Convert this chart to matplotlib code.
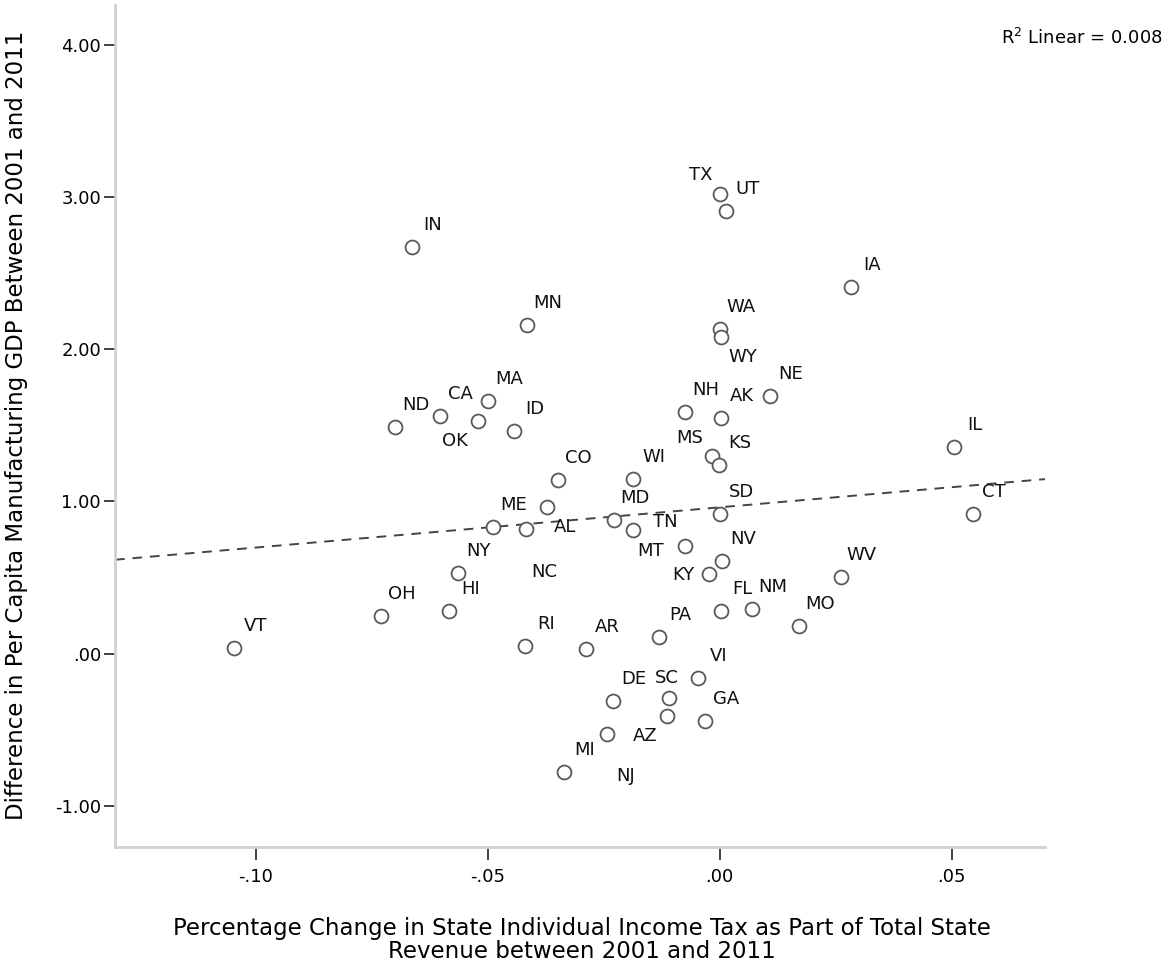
import numpy as np
import matplotlib
matplotlib.use("Agg")
import matplotlib.pyplot as plt

# ---------------- data ----------------
states = ["VT", "OH", "HI", "NY", "ND", "CA", "OK", "MA", "ID", "IN", "MN", "ME",
          "NC", "AL", "CO", "WI", "MD", "TN", "MT", "TX", "UT", "WA", "WY", "NH",
          "AK", "NE", "MS", "KS", "SD", "NV", "KY", "FL", "NM", "MO", "WV", "IA",
          "IL", "CT", "PA", "RI", "AR", "VI", "DE", "SC", "AZ", "GA", "NJ", "MI"]
tax_change = [-0.1046, -0.0730, -0.0583, -0.0564, -0.0700, -0.0603, -0.0521, -0.0499,
              -0.0443, -0.0663, -0.0415, -0.0489, -0.0417, -0.0372, -0.0349, -0.0187,
              -0.0228, -0.0187, -0.0075, 0.0001, 0.0014, 0.0001, 0.0003, -0.0075,
              0.0003, 0.0108, -0.0017, -0.0002, 0.0001, 0.0005, -0.0023, 0.0003,
              0.0070, 0.0171, 0.0261, 0.0283, 0.0505, 0.0546, -0.0131, -0.0420,
              -0.0288, -0.0047, -0.0230, -0.0109, -0.0114, -0.0032, -0.0243, -0.0336]
gdp_diff = [0.04, 0.25, 0.28, 0.53, 1.49, 1.56, 1.53, 1.66, 1.46, 2.67, 2.16, 0.83,
            0.82, 0.96, 1.14, 1.15, 0.88, 0.81, 0.71, 3.02, 2.91, 2.13, 2.08, 1.59,
            1.55, 1.69, 1.30, 1.24, 0.92, 0.61, 0.52, 0.28, 0.29, 0.18, 0.50, 2.41,
            1.36, 0.92, 0.11, 0.05, 0.03, -0.16, -0.31, -0.29, -0.41, -0.44, -0.53, -0.78]
x_ticks = [-0.10, -0.05, 0.00, 0.05]
x_ticklabels = ["-.10", "-.05", ".00", ".05"]
y_ticks = [-1, 0, 1, 2, 3, 4]
y_ticklabels = ["-1.00", ".00", "1.00", "2.00", "3.00", "4.00"]
r2_text = "R$^2$ Linear = 0.008"
x_title = ("Percentage Change in State Individual Income Tax as Part of Total State\n"
           "Revenue between 2001 and 2011")
y_title = "Difference in Per Capita Manufacturing GDP Between 2001 and 2011"

# label placement (pixel offsets of label centre from point, screen y downwards)
default_off = (21, -22)
label_off = {"OK": (-23, 20), "TX": (-19, -19), "MS": (-22, -18), "WY": (22, 20),
             "NC": (18, 43), "AL": (18, 20), "TN": (32, -8), "MT": (-34, 5),
             "KY": (-26, 1), "SC": (-2, -20), "AZ": (-22, 20), "NJ": (19, 42)}

# ---------------- style ----------------
plt.rcParams["font.family"] = ["DejaVu Sans"]
plt.rcParams["mathtext.fontset"] = "dejavusans"

W, H = 1167, 972
fig = plt.figure(figsize=(W / 100, H / 100), dpi=100)
L, R, T, B = 115, 1045, 5, 847
ax = fig.add_axes([L / W, 1 - B / H, (R - L) / W, (B - T) / H])

x = np.array(tax_change)
y = np.array(gdp_diff)

ax.set_xlim(-0.1303, 0.0701)
ax.set_ylim(-1.27, 4.26)

# regression line (least squares fit of the plotted data)
slope, intercept = np.polyfit(x, y, 1)
xl = np.array(ax.get_xlim())
ax.plot(xl, intercept + slope * xl, ls=(0, (5, 4)), color="#444444", lw=1.4, zorder=2)

ax.plot(x, y, ls="none", marker="o", ms=10, mfc="white", mec="#595959", mew=1.3, zorder=3)

for s, xi, yi in zip(states, x, y):
    dx, dy = label_off.get(s, default_off)
    ax.annotate(s, (xi, yi), xytext=(dx, -dy), textcoords="offset pixels",
                ha="center", va="center", fontsize=13, color="#111111", zorder=4)

for sp in ["top", "right"]:
    ax.spines[sp].set_visible(False)
for sp in ["left", "bottom"]:
    ax.spines[sp].set_color("#d0d0d0")
    ax.spines[sp].set_linewidth(2)

ax.set_xticks(x_ticks)
ax.set_xticklabels(x_ticklabels)
ax.set_yticks(y_ticks)
ax.set_yticklabels(y_ticklabels)
ax.tick_params(axis="x", direction="out", length=9, width=1.3, color="#333333",
               pad=6, labelsize=13)
ax.tick_params(axis="y", direction="out", length=8, width=1.3, color="#333333",
               pad=2, labelsize=13)

fig.text(1163 / W, 1 - 38 / H, r2_text, ha="right", va="center", fontsize=13)
fig.text(582 / W, 1 - 940 / H, x_title, ha="center", va="center", fontsize=16.5,
         linespacing=1.0)
fig.text(17 / W, 1 - 425 / H, y_title, ha="center", va="center", rotation=90,
         fontsize=16.5)

fig.savefig("out.png", dpi=100)
